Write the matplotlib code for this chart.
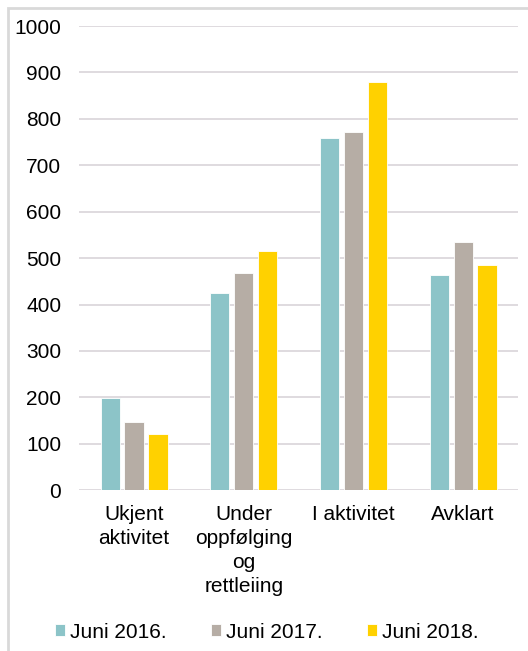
import matplotlib
matplotlib.use("Agg")
from matplotlib import pyplot as plt
from matplotlib.patches import Rectangle
import numpy as np

plt.rcParams['font.family'] = ['Liberation Sans', 'DejaVu Sans']

categories = ["Ukjent\naktivitet", "Under\noppfølging\nog\nrettleiing", "I aktivitet", "Avklart"]
series = ["Juni 2016.", "Juni 2017.", "Juni 2018."]
v2016 = [198, 425, 759, 463]
v2017 = [148, 467, 771, 534]
v2018 = [122, 515, 879, 485]
colors = ["#8CC4C8", "#B6ADA5", "#FFD100"]

fig = plt.figure(figsize=(5.28, 6.51), dpi=100)
ax = fig.add_axes([0.150, 0.247, 0.831, 0.713])

# light frame round the chart (only left and top visible)
fig.patches.append(Rectangle((0.016, -0.1), 1.2, 1.087, transform=fig.transFigure,
                             fill=False, edgecolor="#d9d9d9", linewidth=2))

x = np.arange(len(categories))
w = 0.175
step = 0.218
for i, (vals, name) in enumerate(zip([v2016, v2017, v2018], series)):
    ax.bar(x + (i - 1) * step, vals, width=w, color=colors[i], label=name,
           edgecolor="white", linewidth=0.6, zorder=3)

ax.set_ylim(0, 1000)
ax.set_xlim(-0.5, 3.5)
ax.set_yticks(range(0, 1001, 100))
ax.yaxis.grid(True, color="#dcd8dc", linewidth=1.3, zorder=0)
ax.set_xticks(x)
ax.set_xticklabels(categories, fontsize=15, linespacing=1.32)
ax.tick_params(axis="y", labelsize=15, length=0, pad=13)
ax.tick_params(axis="x", length=0, pad=11)
for s in ax.spines.values():
    s.set_visible(False)

fig.legend(loc="center", bbox_to_anchor=(0.505, 0.029), ncol=3, frameon=False,
           fontsize=15, handlelength=0.5, handleheight=0.5, handletextpad=0.2,
           columnspacing=2.15)

fig.savefig("out.png", dpi=100)
